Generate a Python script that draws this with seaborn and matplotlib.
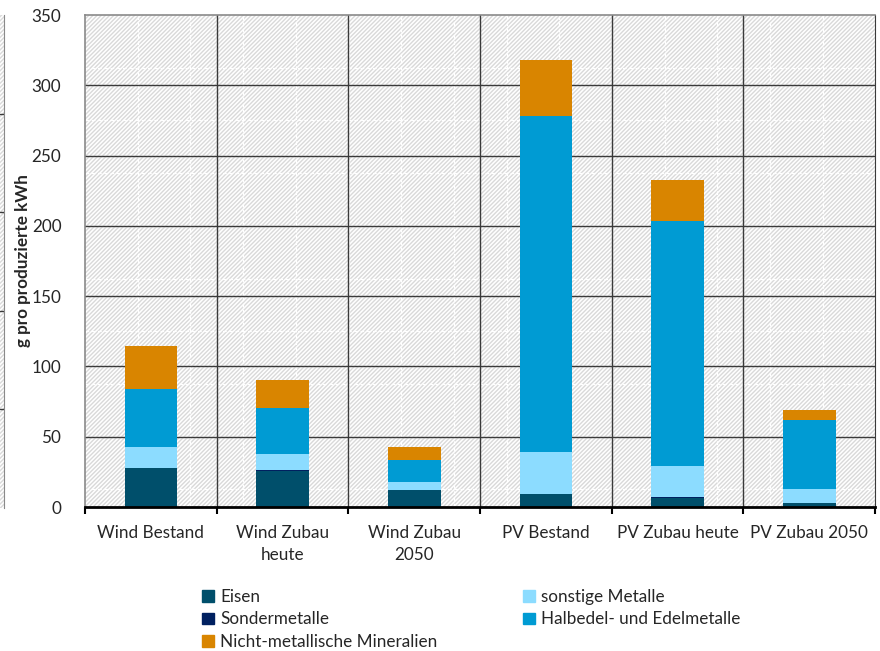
import numpy as np
import pandas as pd
import matplotlib.pyplot as plt
import seaborn as sns
from matplotlib.patches import Rectangle, Patch

# Data (g pro produzierte kWh)
categories = ["Wind Bestand", "Wind Zubau\nheute", "Wind Zubau\n2050",
              "PV Bestand", "PV Zubau heute", "PV Zubau 2050"]
eisen = [27.5, 25.8, 12.0, 9.0, 6.6, 2.8]
sondermetalle = [0.3, 0.3, 0.2, 0.3, 0.3, 0.2]
sonstige = [15.0, 11.6, 5.3, 29.7, 22.1, 9.6]
halbedel = [41.2, 32.9, 16.2, 239.0, 174.4, 49.4]
nichtmetall = [30.5, 19.4, 8.8, 40.0, 29.1, 7.0]

layers = ["Eisen", "Sondermetalle", "sonstige Metalle",
          "Halbedel- und Edelmetalle", "Nicht-metallische Mineralien"]
colors = {"Eisen": "#004f6b", "Sondermetalle": "#002060",
          "sonstige Metalle": "#8cdcff", "Halbedel- und Edelmetalle": "#009bd3",
          "Nicht-metallische Mineralien": "#d98500"}

df = pd.DataFrame({"Kategorie": categories, "Eisen": eisen,
                   "Sondermetalle": sondermetalle, "sonstige Metalle": sonstige,
                   "Halbedel- und Edelmetalle": halbedel,
                   "Nicht-metallische Mineralien": nichtmetall})
cum = df[layers].cumsum(axis=1)

sns.set_style("white")
plt.rcParams["font.family"] = ["Lato", "DejaVu Sans"]
plt.rcParams["hatch.linewidth"] = 1.0

FS = 12.3
W, H = 880, 651
fig = plt.figure(figsize=(W / 100, H / 100), dpi=100)
ax = fig.add_axes([85 / W, (H - 507) / H, 790 / W, 492 / H])

# hatched background
ax.add_patch(Rectangle((0, 0), 1, 1, transform=ax.transAxes, facecolor="white",
                       edgecolor="#d9d9d9", hatch="////////", lw=0, zorder=0))
# faint dashed texture grid
step = 52.7
for xf in np.arange(step, 790, step) / 790:
    ax.axvline(xf * 6 - 0.5, color="white", lw=0.9, ls=(0, (3, 2)), zorder=0.5)
for yf in 1 - np.arange(step, 492, step) / 492:
    ax.axhline(yf * 350, color="white", lw=0.9, ls=(0, (3, 2)), zorder=0.5)

# stacked bars: draw cumulative totals from the top layer down
for layer in reversed(layers):
    sns.barplot(x=df["Kategorie"], y=cum[layer], color=colors[layer],
                width=0.4, saturation=1, linewidth=0, ax=ax, zorder=3)

ax.set_ylim(0, 350)
ax.set_xlim(-0.5, 5.5)
ax.set_yticks(np.arange(0, 351, 50))
for y in np.arange(50, 350, 50):
    ax.axhline(y, color="#3a3a3a", lw=1.0, zorder=1)
for x in np.arange(0.5, 5, 1):
    ax.axvline(x, color="#3a3a3a", lw=1.0, zorder=1)

ax.set_xticks(np.arange(-0.5, 5.6, 1))
ax.set_xticklabels([])
ax.set_xticks(np.arange(6), minor=True)
ax.set_xticklabels(categories, minor=True, fontsize=FS, linespacing=1.45)
ax.tick_params(axis="x", which="major", length=5, width=1.5, color="black",
               direction="out", bottom=True)
ax.tick_params(axis="x", which="minor", length=0, pad=13)
ax.tick_params(axis="y", length=0, pad=17, labelsize=FS)
ax.set_xlabel("")
ax.set_ylabel("g pro produzierte kWh", fontsize=FS, fontweight="bold")
ax.yaxis.set_label_coords(-54 / 790, 0.5)

for s in ["top", "left"]:
    ax.spines[s].set_color("#8a8a8a")
    ax.spines[s].set_linewidth(1.2)
ax.spines["right"].set_color("#3a3a3a")
ax.spines["bottom"].set_color("black")
ax.spines["bottom"].set_linewidth(2)
for s in ax.spines.values():
    s.set_zorder(4)

handles = [Patch(color=colors[l], label=l) for l in
           ["Eisen", "Sondermetalle", "Nicht-metallische Mineralien",
            "sonstige Metalle", "Halbedel- und Edelmetalle"]]
fig.legend(handles=handles, ncol=2, loc="upper left",
           bbox_to_anchor=(202 / W, 1 - 589 / H), frameon=False,
           fontsize=FS, handlelength=0.7, handleheight=0.7,
           handletextpad=0.35, columnspacing=5.0, labelspacing=0.38,
           borderaxespad=0, borderpad=0)

# cropped neighbour chart at the far left edge
ax2 = fig.add_axes([0, (H - 508) / H, 4 / W, 493 / H])
ax2.add_patch(Rectangle((0, 0), 1, 1, transform=ax2.transAxes, facecolor="white",
                        edgecolor="#d9d9d9", hatch="////////", lw=0, zorder=0))
ax2.set_ylim(0, 5)
for y in range(1, 5):
    ax2.axhline(y, color="#3a3a3a", lw=1)
ax2.set_xticks([])
ax2.set_yticks([])
for s in ax2.spines.values():
    s.set_visible(False)
ax2.spines["right"].set_visible(True)
ax2.spines["right"].set_color("#8a8a8a")

fig.savefig("out.png", dpi=100)
